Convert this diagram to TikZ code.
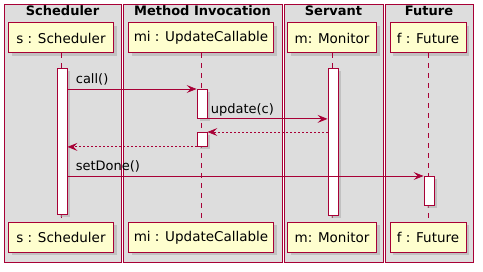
\documentclass[tikz,border=0pt]{standalone}
\usepackage{fontspec}
\setmainfont{DejaVu Sans}
\usetikzlibrary{arrows.meta,positioning,shadows}

\definecolor{umlred}{HTML}{A80036}
\definecolor{umlfill}{HTML}{FEFECE}
\definecolor{boxgray}{HTML}{DDDDDD}

\begin{document}
\begin{tikzpicture}[
  x=1pt,y=-1pt,
  group/.style={draw=umlred,fill=boxgray,line width=0.9pt},
  grouptitle/.style={anchor=base,font=\fontsize{13}{15}\selectfont\bfseries},
  party/.style={rectangle,draw=umlred,fill=umlfill,line width=1pt,
    minimum height=30pt,inner sep=0pt,font=\fontsize{13.5}{16}\selectfont,
    drop shadow={shadow xshift=3pt,shadow yshift=-3pt,fill=black!35}},
  lifeline/.style={umlred,line width=0.8pt,dash pattern=on 5pt off 5pt},
  actbar/.style={rectangle,draw=umlred,fill=white,line width=0.9pt,anchor=north,
    minimum width=10pt,inner sep=0pt,
    drop shadow={shadow xshift=2.5pt,shadow yshift=-2.5pt,fill=black!35}},
  msg/.style={umlred,line width=0.8pt,-{Stealth[length=10pt,width=8pt,inset=4pt]}},
  reply/.style={msg,dash pattern=on 2pt off 2pt},
  msgtext/.style={anchor=base west,text=black,font=\fontsize{13}{15}\selectfont,inner sep=0pt}
]
\useasboundingbox (0,0) rectangle (483,272);

% boxes around the participants
\path[group] (4,4) rectangle (121,262);
\path[group] (123,4) rectangle (282,262);
\path[group] (284,4) rectangle (383,262);
\path[group] (385,4) rectangle (473,262);
\node[grouptitle] (schedTitle) at (62.5,16) {Scheduler};
\node[grouptitle] (invTitle) at (202.5,16) {Method Invocation};
\node[grouptitle] (servTitle) at (333.5,16) {Servant};
\node[grouptitle] (futTitle) at (429,16) {Future};

% participants, head and foot
\node[party,minimum width=105pt] (sTop) at (61,38) {s : Scheduler};
\node[party,minimum width=145pt] (miTop) at (201,38) {mi : UpdateCallable};
\node[party,minimum width=89pt] (mTop) at (332,38) {m: Monitor};
\node[party,minimum width=76pt] (fTop) at (428,38) {f : Future};
\node[party,minimum width=105pt] (sBot) at (61,237.5) {s : Scheduler};
\node[party,minimum width=145pt] (miBot) at (201,237.5) {mi : UpdateCallable};
\node[party,minimum width=89pt] (mBot) at (332,237.5) {m: Monitor};
\node[party,minimum width=76pt] (fBot) at (428,237.5) {f : Future};

% lifelines
\draw[lifeline] (sTop) -- (sBot);
\draw[lifeline] (miTop) -- (miBot);
\draw[lifeline] (mTop) -- (mBot);
\draw[lifeline] (fTop) -- (fBot);

% activations
\node[actbar,minimum height=146pt] (sAct) at (62,68) {};
\node[actbar,minimum height=29pt] (miAct) at (202,89) {};
\node[actbar,minimum height=14pt] (miAct2) at (202,132) {};
\node[actbar,minimum height=147pt] (mAct) at (333,68) {};
\node[actbar,minimum height=29pt] (fAct) at (429,176) {};

% messages
\draw[msg] (sAct.east |- miAct.north) -- (miAct.north west)
  node[msgtext,pos=0,xshift=8pt,yshift=5pt] {call()};
\draw[msg] (miAct.south east) -- (mAct.west |- miAct.south east)
  node[msgtext,pos=0,xshift=3pt,yshift=5pt] {update(c)};
\draw[reply] (mAct.west |- miAct2.north east) -- (miAct2.north east);
\draw[reply] (miAct2.south west) -- (sAct.east |- miAct2.south west);
\draw[msg] (sAct.east |- fAct.north west) -- (fAct.north west)
  node[msgtext,pos=0,xshift=8pt,yshift=5pt] {setDone()};
\end{tikzpicture}
\end{document}
